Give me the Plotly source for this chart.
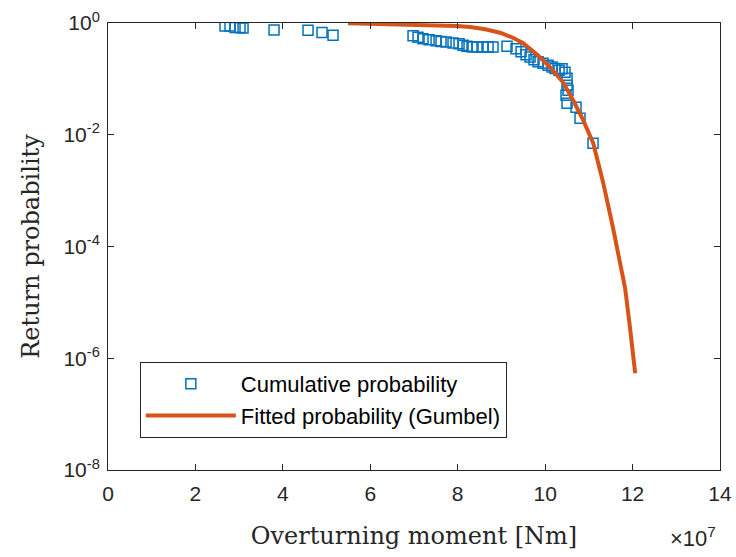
import plotly.graph_objects as go

# Empirical (cumulative) probability points: overturning moment [x1e7 Nm], return probability
emp_x = [2.677, 2.791, 2.906, 3.020, 3.089, 3.798, 4.576, 4.896, 5.148,
         6.978, 7.092, 7.207, 7.344, 7.504, 7.618, 7.733, 7.893, 8.030, 8.122,
         8.213, 8.328, 8.442, 8.579, 8.694, 8.808, 9.128, 9.334, 9.449, 9.563,
         9.655, 9.746, 9.838, 9.952, 10.066, 10.158, 10.227, 10.318, 10.387,
         10.455, 10.501, 10.501, 10.524, 10.478, 10.501, 10.707, 10.798, 11.096]
emp_p = [0.883, 0.883, 0.827, 0.827, 0.814, 0.749, 0.740, 0.673, 0.603,
         0.590, 0.555, 0.521, 0.500, 0.481, 0.465, 0.457, 0.439, 0.425, 0.399,
         0.383, 0.372, 0.372, 0.372, 0.372, 0.372, 0.383, 0.345, 0.305, 0.270,
         0.246, 0.220, 0.202, 0.190, 0.175, 0.163, 0.153, 0.143, 0.152,
         0.131, 0.103, 0.0768, 0.0625, 0.0509, 0.0366, 0.031, 0.0197, 0.00705]

# Fitted Gumbel curve
fit_x = [5.49, 6.45, 7.40, 7.98, 8.28, 8.63, 8.97, 9.25, 9.49, 9.82, 10.11, 10.41, 10.64,
         10.87, 11.10, 11.33, 11.55, 11.71, 11.83, 11.94, 12.06]
fit_p = [0.99, 0.955, 0.92, 0.88, 0.85, 0.775, 0.67, 0.55, 0.44, 0.27, 0.163, 0.0869, 0.0414,
         0.0182, 7.05e-3, 1.36e-3, 2.21e-4, 5.69e-5, 1.79e-5, 3.6e-6, 5.41e-7]

x_ticks = [0, 2, 4, 6, 8, 10, 12, 14]
y_tick_vals = [1e-8, 1e-6, 1e-4, 1e-2, 1]
y_tick_text = ["10<sup>-8</sup>", "10<sup>-6</sup>", "10<sup>-4</sup>", "10<sup>-2</sup>", "10<sup>0</sup>"]

BLUE = "#0072BD"
ORANGE = "#D95319"
AX = "#262626"
SANS = "Liberation Sans, Arial"
SERIF = "DejaVu Serif, serif"

fig = go.Figure()
fig.add_trace(go.Scatter(
    x=emp_x, y=emp_p, mode="markers", name="Cumulative probability", legendgroup="a",
    marker=dict(symbol="square-open", size=10, color=BLUE, line=dict(width=1.5, color=BLUE)),
))
fig.add_trace(go.Scatter(
    x=fit_x, y=fit_p, mode="lines", name="Fitted probability (Gumbel)", legendgroup="b",
    line=dict(color=ORANGE, width=4),
))

fig.update_layout(
    width=736, height=557,
    margin=dict(l=108, r=16, t=23, b=87),
    paper_bgcolor="white", plot_bgcolor="white",
    font=dict(family=SANS, size=21, color=AX),
    showlegend=True,
    legend=dict(
        x=0.052, y=0.2415, xanchor="left", yanchor="top",
        bgcolor="white", bordercolor=AX, borderwidth=1,
        font=dict(family=SANS, size=22, color="black"),
        itemwidth=90, tracegroupgap=0,
    ),
    xaxis=dict(
        range=[0, 14], tickvals=x_ticks, ticktext=[str(v) for v in x_ticks],
        ticks="inside", ticklen=6, tickcolor=AX, showline=True, linecolor=AX, linewidth=1,
        mirror="ticks", showgrid=False, zeroline=False, automargin=False,
        ticklabelstandoff=5,
        title=dict(text="Overturning moment [Nm]", font=dict(family=SERIF, size=24, color=AX), standoff=22),
        tickfont=dict(size=21, color=AX),
    ),
    yaxis=dict(
        type="log", range=[-8, 0], tickvals=y_tick_vals, ticktext=y_tick_text,
        ticks="inside", ticklen=6, tickcolor=AX, showline=True, linecolor=AX, linewidth=1,
        mirror="ticks", showgrid=False, zeroline=False, automargin=False,
        ticklabelstandoff=3,
        title=dict(text="Return probability", font=dict(family=SERIF, size=24, color=AX), standoff=16),
        tickfont=dict(size=21, color=AX),
    ),
    annotations=[dict(
        text="×10<sup>7</sup>", xref="paper", yref="paper", x=0.997, y=-0.115,
        xanchor="right", yanchor="top", showarrow=False,
        font=dict(family=SANS, size=22, color=AX),
    )],
)

fig.write_html("out.html")
